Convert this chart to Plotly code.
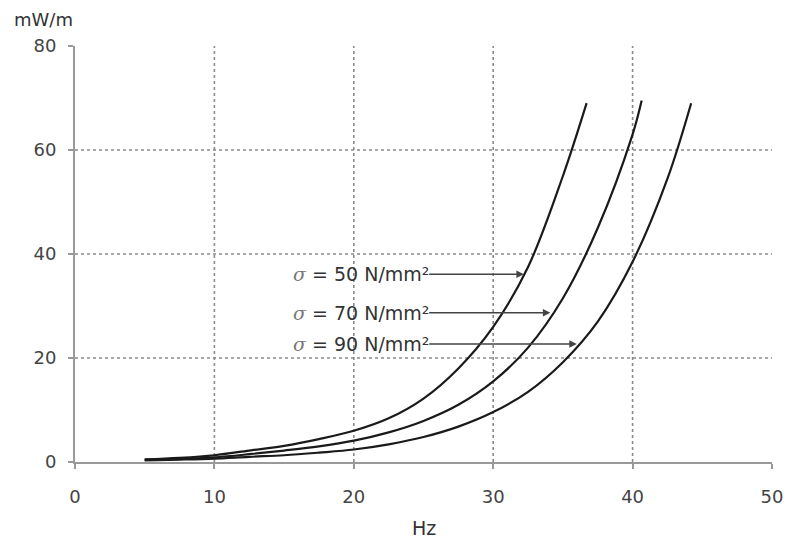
import plotly.graph_objects as go

# Frequency (Hz) sample points
x_s50 = [5, 7.5, 10, 12.5, 15, 17.5, 20, 22.5, 25, 27.5, 30, 32.5, 35, 36.7]
y_s50 = [0.5, 0.8, 1.3, 2.2, 3.1, 4.4, 6.0, 8.4, 12.2, 18.0, 26.0, 37.5, 55.0, 69.0]

x_s70 = [5, 7.5, 10, 12.5, 15, 17.5, 20, 22.5, 25, 27.5, 30, 32.5, 35, 37.5, 40, 40.65]
y_s70 = [0.4, 0.6, 0.9, 1.5, 2.2, 3.0, 4.1, 5.7, 7.9, 11.0, 15.5, 22.0, 31.5, 45.0, 63.0, 69.5]

x_s90 = [5, 7.5, 10, 12.5, 15, 17.5, 20, 22.5, 25, 27.5, 30, 32.5, 35, 37.5, 40, 42.5, 44.2]
y_s90 = [0.3, 0.45, 0.65, 1.0, 1.3, 1.8, 2.4, 3.4, 4.8, 6.8, 9.6, 13.5, 19.2, 27.0, 38.5, 54.5, 69.0]

labels = ["50", "70", "90"]
arrow_tail_x = 25.3
arrow_y = [36.1, 28.7, 22.7]
arrow_head_x = [32.2, 34.1, 36.0]

x_grid = [10, 20, 30, 40]
y_grid = [20, 40, 60]
x_ticks = [0, 10, 20, 30, 40, 50]
y_ticks = [0, 20, 40, 60, 80]

FONT = "DejaVu Sans, Liberation Sans, Arial"

fig = go.Figure()
for xs, ys in [(x_s50, y_s50), (x_s70, y_s70), (x_s90, y_s90)]:
    fig.add_trace(go.Scatter(x=xs, y=ys, mode="lines",
                             line=dict(color="#1a1a1a", width=2.2, shape="spline", smoothing=1.0),
                             showlegend=False, hoverinfo="skip"))

shapes = []
for gx in x_grid:
    shapes.append(dict(type="line", xref="x", yref="y", x0=gx, x1=gx, y0=0, y1=80,
                       line=dict(color="#8a8a8a", width=1.6, dash="dot"), layer="below"))
for gy in y_grid:
    shapes.append(dict(type="line", xref="x", yref="y", x0=0, x1=50, y0=gy, y1=gy,
                       line=dict(color="#8a8a8a", width=1.6, dash="dot"), layer="below"))

annotations = []
for lab, ay, hx in zip(labels, arrow_y, arrow_head_x):
    annotations.append(dict(x=hx, y=ay, ax=arrow_tail_x, ay=ay, xref="x", yref="y",
                            axref="x", ayref="y", text="", showarrow=True,
                            arrowhead=2, arrowsize=1, arrowwidth=1.5, arrowcolor="#444444"))
    annotations.append(dict(x=arrow_tail_x, y=ay, xref="x", yref="y", xanchor="right",
                            yanchor="middle", showarrow=False, xshift=3,
                            text='<span style="font-family:DejaVu Serif;font-style:italic;color:#777">σ</span> = '
                                 + lab + " N/mm²",
                            font=dict(family=FONT, size=19, color="#333333")))

annotations.append(dict(x=0.5, y=0, xref="paper", yref="paper", yshift=-66, text="Hz",
                        showarrow=False, xanchor="center", yanchor="middle",
                        font=dict(family=FONT, size=19, color="#333333")))
annotations.append(dict(x=0, y=1, xref="paper", yref="paper", xshift=-32, yshift=27, text="mW/m",
                        showarrow=False, xanchor="center", yanchor="middle",
                        font=dict(family=FONT, size=18, color="#333333")))

fig.update_layout(
    width=787, height=539,
    margin=dict(l=75, r=15, t=46, b=77),
    paper_bgcolor="white", plot_bgcolor="white",
    shapes=shapes, annotations=annotations,
    font=dict(family=FONT, size=18, color="#444444"),
)
fig.update_xaxes(range=[0, 50], tickvals=x_ticks, showgrid=False, zeroline=False,
                 automargin=False,
                 showline=True, linecolor="#999999", linewidth=2,
                 ticks="outside", ticklen=5, tickcolor="#999999", tickwidth=2,
                 ticklabelstandoff=12, tickfont=dict(family=FONT, size=18, color="#444444"))
fig.update_yaxes(range=[0, 80], tickvals=y_ticks, showgrid=False, zeroline=False,
                 automargin=False,
                 showline=True, linecolor="#999999", linewidth=2,
                 ticks="outside", ticklen=5, tickcolor="#999999", tickwidth=2,
                 ticklabelstandoff=8, tickfont=dict(family=FONT, size=18, color="#444444"))

fig.write_html("out.html", config={"displayModeBar": False},
               post_script="document.body.style.margin='0';document.body.style.overflow='hidden';")
